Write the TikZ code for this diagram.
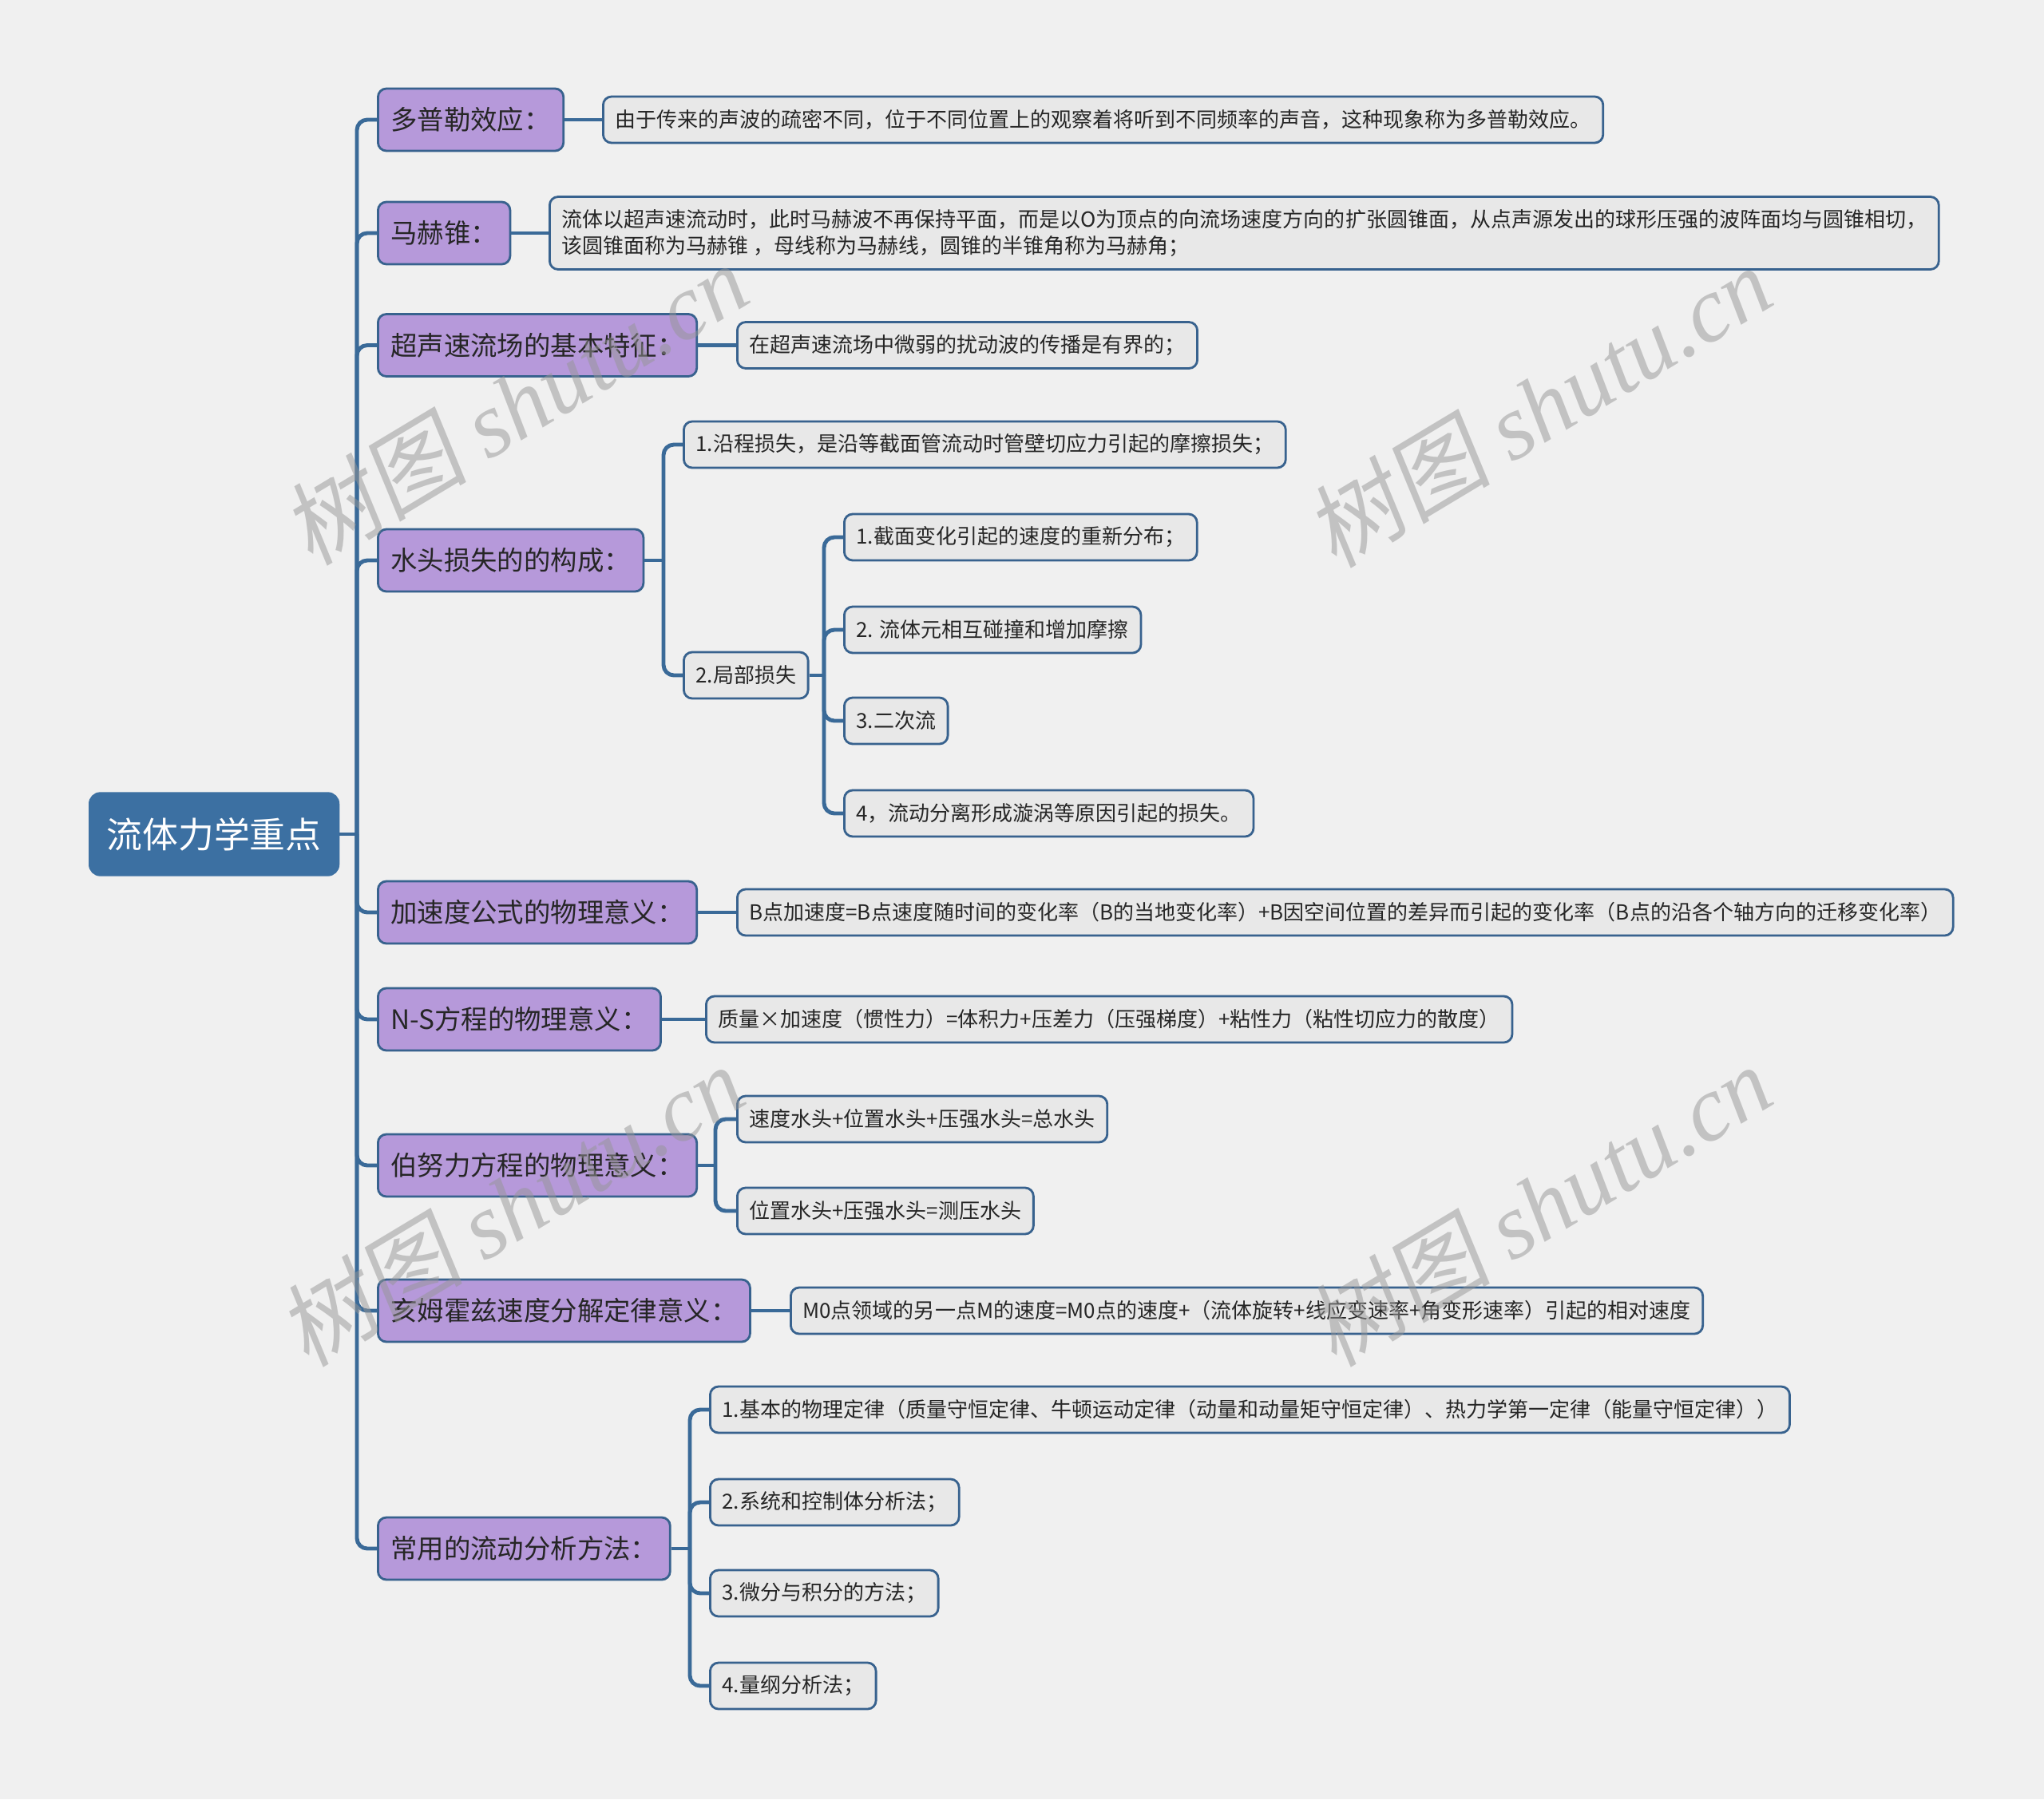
\documentclass[tikz,border=0pt]{standalone}
\usepackage{fontspec}
\setmainfont{Noto Sans CJK SC}
\newfontfamily\wmcjk[FakeSlant=0.15]{Noto Sans CJK SC}
\newfontfamily\wmlatin{Liberation Serif}
\usetikzlibrary{positioning,calc}
\definecolor{bggray}{RGB}{240,240,240}
\definecolor{rootblue}{RGB}{60,112,162}
\definecolor{linkblue}{RGB}{58,106,152}
\definecolor{edgeblue}{RGB}{56,98,142}
\definecolor{topicpurple}{RGB}{182,153,218}
\definecolor{leafgray}{RGB}{232,232,232}
\definecolor{textdark}{RGB}{38,38,38}
\definecolor{wmgray}{RGB}{150,150,150}

\begin{document}
\begin{tikzpicture}[
  x=1cm, y=1cm,
  root/.style={draw=rootblue, fill=rootblue, rounded corners=4pt, anchor=west,
               minimum height=1.04cm, inner xsep=0.22cm, text=white,
               font=\fontsize{12.75}{15}\selectfont},
  topic/.style={draw=edgeblue, line width=0.8pt, fill=topicpurple,
                rounded corners=3pt, anchor=west, minimum height=0.78cm,
                inner xsep=0.16cm, text=textdark,
                font=\fontsize{9.5}{11}\selectfont},
  leaf/.style={draw=edgeblue, line width=0.8pt, fill=leafgray,
               rounded corners=3pt, anchor=west, minimum height=0.58cm,
               inner xsep=0.15cm, align=left, text=textdark,
               font=\fontsize{7.4}{9.3}\selectfont},
  conn/.style={draw=linkblue, line width=1.4pt, rounded corners=0.13cm},
  wmark/.style={rotate=31, text=wmgray, text opacity=0.5,
                font=\fontsize{33}{33}\selectfont},
]

% background
\fill[bggray] (0,0) rectangle (25.6,-22.54);

% root
\node[root] (fluid) at (1.11,-10.45) {流体力学重点};

% topics
\node[topic] (doppler)   at (4.72,-1.50)  {多普勒效应：};
\node[topic] (mach)      at (4.72,-2.92)  {马赫锥：};
\node[topic] (superflow) at (4.72,-4.325) {超声速流场的基本特征：};
\node[topic] (headloss)  at (4.72,-7.02)  {水头损失的的构成：};
\node[topic] (accel)     at (4.72,-11.43) {加速度公式的物理意义：};
\node[topic] (nseq)      at (4.72,-12.77) {N-S方程的物理意义：};
\node[topic] (bernoulli) at (4.72,-14.60) {伯努力方程的物理意义：};
\node[topic] (helmholtz) at (4.72,-16.42) {亥姆霍兹速度分解定律意义：};
\node[topic] (methods)   at (4.72,-19.40) {常用的流动分析方法：};

% leaves
\node[leaf] (dopplerdef) at (7.54,-1.50)
  {由于传来的声波的疏密不同，位于不同位置上的观察着将听到不同频率的声音，这种现象称为多普勒效应。};
\node[leaf, minimum height=0.91cm] (machdef) at (6.87,-2.92)
  {流体以超声速流动时，此时马赫波不再保持平面，而是以O为顶点的向流场速度方向的扩张圆锥面，从点声源发出的球形压强的波阵面均与圆锥相切，\\
   该圆锥面称为马赫锥 ，母线称为马赫线，圆锥的半锥角称为马赫角；};
\node[leaf] (superdef) at (9.22,-4.325) {在超声速流场中微弱的扰动波的传播是有界的；};

\node[leaf] (loss1) at (8.55,-5.57) {1.沿程损失，是沿等截面管流动时管壁切应力引起的摩擦损失；};
\node[leaf] (loss2) at (8.55,-8.46) {2.局部损失};
\node[leaf] (local1) at (10.56,-6.73)  {1.截面变化引起的速度的重新分布；};
\node[leaf] (local2) at (10.56,-7.89)  {2. 流体元相互碰撞和增加摩擦};
\node[leaf] (local3) at (10.56,-9.03)  {3.二次流};
\node[leaf] (local4) at (10.56,-10.19) {4，流动分离形成漩涡等原因引起的损失。};

\node[leaf] (acceldef) at (9.22,-11.43)
  {B点加速度=B点速度随时间的变化率（B的当地变化率）+B因空间位置的差异而引起的变化率（B点的沿各个轴方向的迁移变化率）};
\node[leaf] (nsdef) at (8.83,-12.77)
  {质量×加速度（惯性力）=体积力+压差力（压强梯度）+粘性力（粘性切应力的散度）};

\node[leaf] (bern1) at (9.22,-14.02) {速度水头+位置水头+压强水头=总水头};
\node[leaf] (bern2) at (9.22,-15.17) {位置水头+压强水头=测压水头};

\node[leaf] (helmdef) at (9.89,-16.42)
  {M0点领域的另一点M的速度=M0点的速度+（流体旋转+线应变速率+角变形速率）引起的相对速度};

\node[leaf] (meth1) at (8.88,-17.66)
  {1.基本的物理定律（质量守恒定律、牛顿运动定律（动量和动量矩守恒定律）、热力学第一定律（能量守恒定律））};
\node[leaf] (meth2) at (8.88,-18.82) {2.系统和控制体分析法；};
\node[leaf] (meth3) at (8.88,-19.96) {3.微分与积分的方法；};
\node[leaf] (meth4) at (8.88,-21.12) {4.量纲分析法；};

% branch points
\coordinate (trunk)    at (4.47,-10.45);
\coordinate (lossbus)  at (8.31,-7.02);
\coordinate (localbus) at (10.32,-8.46);
\coordinate (bernbus)  at (8.96,-14.60);
\coordinate (methbus)  at (8.64,-19.40);

% root to topics
\draw[conn] (fluid.east) -- (trunk);
\draw[conn] (trunk) |- (doppler.west);
\draw[conn] (trunk) |- (mach.west);
\draw[conn] (trunk) |- (superflow.west);
\draw[conn] (trunk) |- (headloss.west);
\draw[conn] (trunk) |- (accel.west);
\draw[conn] (trunk) |- (nseq.west);
\draw[conn] (trunk) |- (bernoulli.west);
\draw[conn] (trunk) |- (helmholtz.west);
\draw[conn] (trunk) |- (methods.west);

% single leaves
\draw[conn] (doppler.east) -- (dopplerdef.west);
\draw[conn] (mach.east) -- (machdef.west);
\draw[conn] (superflow.east) -- (superdef.west);
\draw[conn] (accel.east) -- (acceldef.west);
\draw[conn] (nseq.east) -- (nsdef.west);
\draw[conn] (helmholtz.east) -- (helmdef.west);

% head loss
\draw[conn] (headloss.east) -- (lossbus);
\draw[conn] (lossbus) |- (loss1.west);
\draw[conn] (lossbus) |- (loss2.west);
\draw[conn] (loss2.east) -- (localbus);
\draw[conn] (localbus) |- (local1.west);
\draw[conn] (localbus) |- (local2.west);
\draw[conn] (localbus) |- (local3.west);
\draw[conn] (localbus) |- (local4.west);

% bernoulli
\draw[conn] (bernoulli.east) -- (bernbus);
\draw[conn] (bernbus) |- (bern1.west);
\draw[conn] (bernbus) |- (bern2.west);

% methods
\draw[conn] (methods.east) -- (methbus);
\draw[conn] (methbus) |- (meth1.west);
\draw[conn] (methbus) |- (meth2.west);
\draw[conn] (methbus) |- (meth3.west);
\draw[conn] (methbus) |- (meth4.west);

% watermarks
\node[wmark] (wm1) at (6.45,-5.06)   {\wmcjk 树图 \wmlatin\itshape shutu.cn};
\node[wmark] (wm2) at (19.27,-5.09)  {\wmcjk 树图 \wmlatin\itshape shutu.cn};
\node[wmark] (wm3) at (6.40,-15.10)  {\wmcjk 树图 \wmlatin\itshape shutu.cn};
\node[wmark] (wm4) at (19.27,-15.10) {\wmcjk 树图 \wmlatin\itshape shutu.cn};

\end{tikzpicture}
\end{document}
